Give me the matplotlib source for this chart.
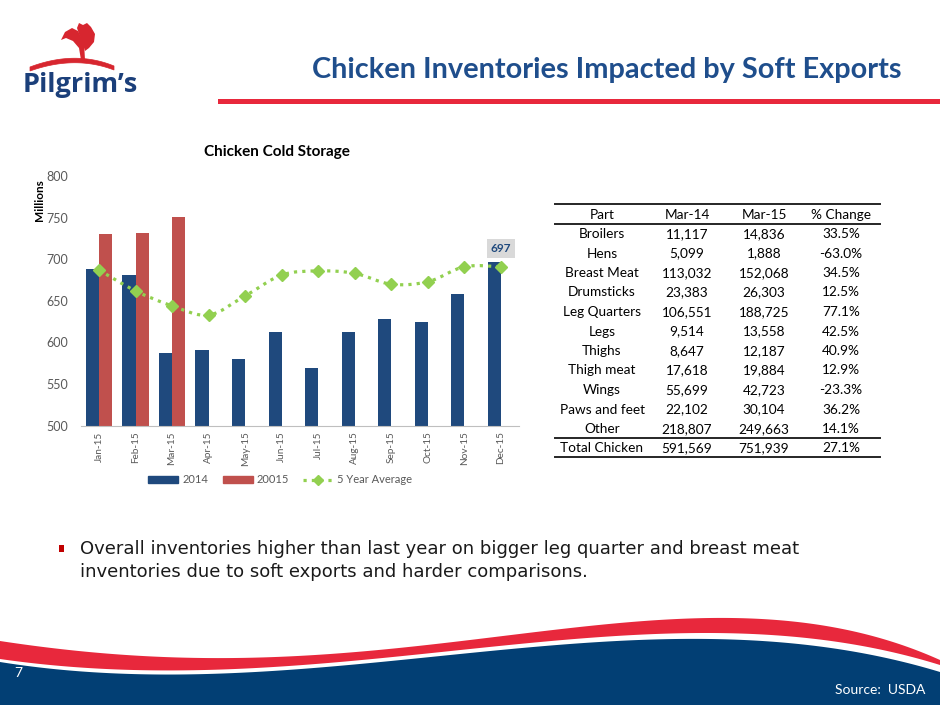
import numpy as np
import matplotlib
matplotlib.use("Agg")
import matplotlib.pyplot as plt
from matplotlib.patches import Polygon, PathPatch, Rectangle
from matplotlib.path import Path
from matplotlib.lines import Line2D

# ---------------- data ----------------
months = ["Jan-15", "Feb-15", "Mar-15", "Apr-15", "May-15", "Jun-15",
          "Jul-15", "Aug-15", "Sep-15", "Oct-15", "Nov-15", "Dec-15"]
y2014 = [688, 681, 587, 591, 580, 612, 569, 613, 628, 625, 658, 697]
y2015 = [730, 731, 751, np.nan, np.nan, np.nan, np.nan, np.nan, np.nan, np.nan, np.nan, np.nan]
avg5 = [687, 662, 644, 633, 656, 681, 686, 683, 670, 673, 691, 691]
series_names = ["2014", "20015", "5 Year Average"]
yticks = [500, 550, 600, 650, 700, 750, 800]

tbl_header = ["Part", "Mar-14", "Mar-15", "% Change"]
tbl_parts = ["Broilers", "Hens", "Breast Meat", "Drumsticks", "Leg Quarters", "Legs",
             "Thighs", "Thigh meat", "Wings", "Paws and feet", "Other"]
tbl_mar14 = ["11,117", "5,099", "113,032", "23,383", "106,551", "9,514",
             "8,647", "17,618", "55,699", "22,102", "218,807"]
tbl_mar15 = ["14,836", "1,888", "152,068", "26,303", "188,725", "13,558",
             "12,187", "19,884", "42,723", "30,104", "249,663"]
tbl_pct = ["33.5%", "-63.0%", "34.5%", "12.5%", "77.1%", "42.5%",
           "40.9%", "12.9%", "-23.3%", "36.2%", "14.1%"]
tbl_total = ["Total Chicken", "591,569", "751,939", "27.1%"]

NAVY = "#1F497D"
RED = "#C0504D"
GREEN = "#92D050"
TITLE_NAVY = "#1F4E8C"
BAND_RED = "#E8283C"
BAND_NAVY = "#023F74"
GREY = "#595959"
CAL = ["Lato", "DejaVu Sans"]

W, H = 940, 705
fig = plt.figure(figsize=(9.4, 7.05), dpi=100)

# background axes in pixel coordinates
bg = fig.add_axes([0, 0, 1, 1])
bg.set_xlim(0, W)
bg.set_ylim(H, 0)
bg.set_autoscale_on(False)
bg.axis("off")

# title + red rule
bg.text(902, 70, "Chicken Inventories Impacted by Soft Exports", ha="right", va="center",
        fontsize=20.8, fontweight="bold", color=TITLE_NAVY, family=CAL)
bg.add_patch(Rectangle((218, 99), W - 218, 5, color=BAND_RED, lw=0))

# logo
bg.text(80, 85, "Pilgrim\u2019s", ha="center", va="center", fontsize=19.5, fontweight="bold",
        color="#1B3F7A", family=["Open Sans", "DejaVu Sans"], zorder=2)
t = np.linspace(0, 1, 60)
def qbez(p0, p1, p2):
    p0, p1, p2 = map(np.array, (p0, p1, p2))
    return ((1 - t)**2)[:, None] * p0 + (2 * (1 - t) * t)[:, None] * p1 + (t**2)[:, None] * p2
arc_top = qbez((30, 67), (75, 50), (114, 66))
arc_bot = qbez((114, 70), (75, 55), (30, 71))
bg.fill(np.concatenate([arc_top[:, 0], arc_bot[:, 0]]),
        np.concatenate([arc_top[:, 1], arc_bot[:, 1]]), color="#D7262F", lw=0.5, zorder=6)
bg.add_patch(Polygon([(61, 40), (65, 32), (72, 28), (78, 31), (84, 42), (85, 60), (81, 60),
                      (79, 48), (73, 41), (66, 38)], closed=True, color="#D7262F", lw=0))
bg.add_patch(Polygon([(77, 28), (79, 23), (83, 25), (87, 23), (91, 27), (95, 34), (94, 42),
                      (89, 48), (85, 51), (82, 41), (79, 34)], closed=True, color="#D7262F", lw=0))

# bottom wave
xs = np.linspace(0, W, 400)
kx = [0, 235, 470, 710, 940]
def curve(ky):
    c = np.polyfit(kx, ky, 4)
    return np.polyval(c, xs)
red_top = curve([641, 658, 640, 618, 660])
red_bot = curve([659, 669, 649, 633, 665])
navy_top = curve([662, 673, 653, 639, 672])
bg.fill_between(xs, red_top, red_bot, color=BAND_RED, lw=0)
bg.fill_between(xs, navy_top, H, color=BAND_NAVY, lw=0)
bg.text(14, 673, "7", ha="left", va="center", fontsize=10, color="white", family=CAL)
bg.text(925, 690, "Source:  USDA", ha="right", va="center", fontsize=10, color="white", family=CAL)

# bullet
bg.add_patch(Rectangle((59, 545), 5, 7, color="#C00000", lw=0))
bg.text(80, 549, "Overall inventories higher than last year on bigger leg quarter and breast meat",
        ha="left", va="center", fontsize=13.0, color="#1a1a1a", family=["DejaVu Sans"])
bg.text(80, 572, "inventories due to soft exports and harder comparisons.",
        ha="left", va="center", fontsize=13.0, color="#1a1a1a", family=["DejaVu Sans"])

# table
tx0, tx1 = 555, 880
col_x = [602, 687, 764, 841]
TFS = 9.8
for yy in (204, 224, 437.5, 456.5):
    bg.plot([tx0, tx1], [yy, yy], color="#262626", lw=1.4)
for cx, h in zip(col_x, tbl_header):
    bg.text(cx, 215, h, ha="center", va="center", fontsize=TFS, color="black", family=CAL)
for i, cells in enumerate(zip(tbl_parts, tbl_mar14, tbl_mar15, tbl_pct)):
    yy = 234 + i * 19.5
    for cx, c in zip(col_x, cells):
        bg.text(cx, yy, c, ha="center", va="center", fontsize=TFS, color="black", family=CAL)
for cx, c in zip(col_x, tbl_total):
    bg.text(cx, 448, c, ha="center", va="center", fontsize=TFS, color="black", family=CAL)

# ---------------- chart ----------------
left, right, top, bottom = 80.7, 519.3, 176.0, 425.7
ax = fig.add_axes([left / W, (H - bottom) / H, (right - left) / W, (bottom - top) / H])
x = np.arange(len(months))
bw = 0.36
ax.bar(x - bw / 2, y2014, bw, color=NAVY, label=series_names[0], zorder=2)
ax.bar(x + bw / 2, y2015, bw, color=RED, label=series_names[1], zorder=2)

# smoothed dotted line (Catmull-Rom -> Bezier) through the 5-year average points
pts = np.column_stack([x, avg5]).astype(float)
verts = [tuple(pts[0])]
codes = [Path.MOVETO]
for i in range(len(pts) - 1):
    pm = pts[i - 1] if i > 0 else pts[i]
    pn = pts[i + 2] if i + 2 < len(pts) else pts[i + 1]
    c1 = pts[i] + (pts[i + 1] - pm) / 6.0
    c2 = pts[i + 1] - (pn - pts[i]) / 6.0
    verts += [tuple(c1), tuple(c2), tuple(pts[i + 1])]
    codes += [Path.CURVE4] * 3
ax.add_patch(PathPatch(Path(verts, codes), fill=False, edgecolor=GREEN, lw=2.3,
                       linestyle=(0, (1, 1.6)), zorder=3))
ax.plot(x, avg5, linestyle="none", marker="D", markersize=6.5, color=GREEN, zorder=4)

ax.set_xlim(-0.5, len(months) - 0.5)
ax.set_ylim(yticks[0], yticks[-1])
ax.set_yticks(yticks)
ax.set_xticks(x)
ax.set_xticklabels(months, rotation=90, fontsize=7.2, color=GREY, family=CAL)
for lab in ax.get_yticklabels():
    lab.set_fontsize(9)
    lab.set_color(GREY)
    lab.set_family(CAL)
ax.tick_params(axis="both", length=0)
ax.tick_params(axis="y", pad=9)
ax.tick_params(axis="x", pad=4)
for s in ("left", "right", "top"):
    ax.spines[s].set_visible(False)
ax.spines["bottom"].set_color("#BFBFBF")
ax.patch.set_alpha(0)

ax.set_ylabel("Millions", fontsize=8.5, fontweight="bold", family=CAL, color="black")
ax.yaxis.set_label_coords(-0.082, 0.905)
ax.text(0.448, 1.096, "Chicken Cold Storage", transform=ax.transAxes, ha="center", va="center",
        fontsize=11, fontweight="bold", family=CAL, color="black")

ax.annotate(str(y2014[-1]), xy=(x[-1], y2014[-1]), xytext=(0, 9.5), textcoords="offset points",
            ha="center", va="center", fontsize=8.5, fontweight="bold", color=NAVY, family=CAL,
            bbox=dict(boxstyle="square,pad=0.3", fc="#D9D9D9", ec="none"))

handles = [Rectangle((0, 0), 1, 1, color=NAVY), Rectangle((0, 0), 1, 1, color=RED),
           Line2D([], [], color=GREEN, lw=2.3, linestyle=(0, (1, 1.6)), marker="D", markersize=5.5)]
leg = ax.legend(handles, series_names, loc="center", bbox_to_anchor=(0.455, -0.217), ncol=3,
                frameon=False, handlelength=2.7, handleheight=0.55,
                columnspacing=1.3, handletextpad=0.35, prop={"family": CAL, "size": 8})
for txt in leg.get_texts():
    txt.set_color(GREY)

fig.savefig("out.png", dpi=100)
